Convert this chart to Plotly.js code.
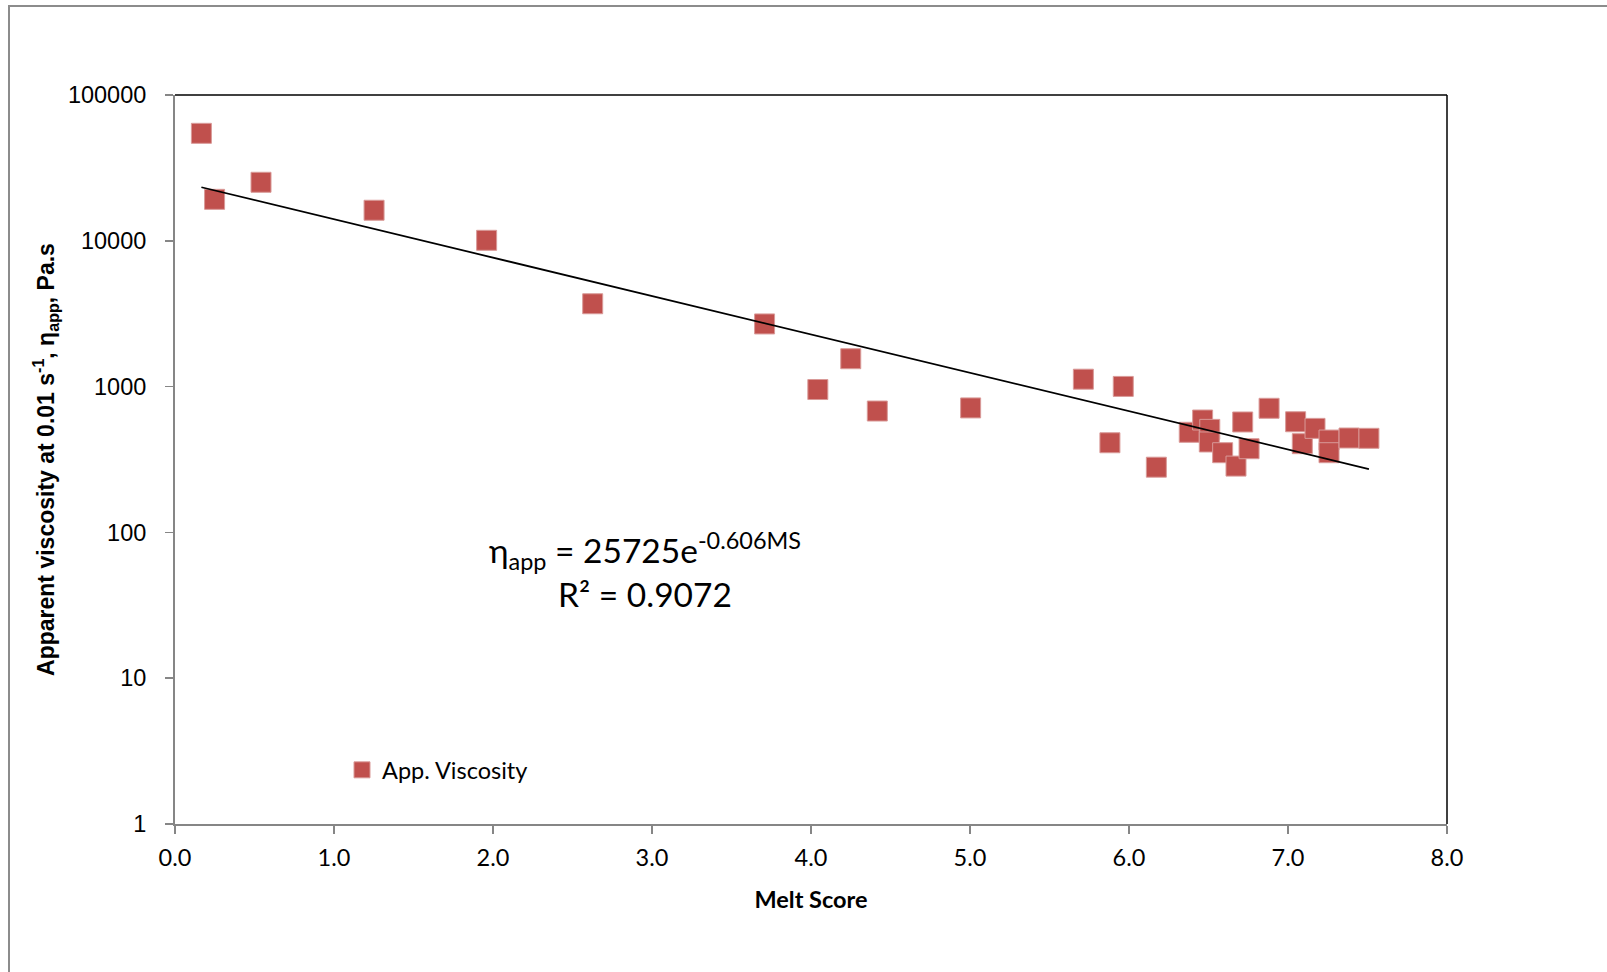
<!DOCTYPE html>
<html>
<head>
<meta charset="utf-8">
<script src="https://cdn.plot.ly/plotly-3.0.1.min.js"></script>
<style>
  html, body { margin: 0; padding: 0; background: #ffffff; }
  #chart { width: 1607px; height: 972px; }
</style>
</head>
<body>
<div id="chart"></div>
<script>
// Data
const meltScore = [0.166, 0.249, 0.541, 1.252, 1.960, 2.627, 3.708, 4.043, 4.250, 4.417,
                   5.004, 5.713, 5.880, 5.964, 6.172, 6.379, 6.463, 6.508, 6.505, 6.589,
                   6.673, 6.715, 6.755, 6.881, 7.048, 7.090, 7.170, 7.258, 7.258, 7.384, 7.509];
const viscosity = [54600, 19250, 25200, 16200, 10080, 3700, 2690, 955, 1553, 680,
                   714, 1124, 412, 1003, 280, 486, 590, 509, 417, 352,
                   285, 572, 375, 710, 574, 406, 517, 430, 352, 444, 442];

// Exponential trendline end points (straight on the log axis)
const trendX = [0.166, 7.509];
const trendY = [23300, 272];

const xTickVals = [0, 1, 2, 3, 4, 5, 6, 7, 8];
const xTickLabels = ["0.0", "1.0", "2.0", "3.0", "4.0", "5.0", "6.0", "7.0", "8.0"];
const yTickVals = [1, 10, 100, 1000, 10000, 100000];
const yTickLabels = ["1", "10", "100", "1000", "10000", "100000"];

const seriesName = "App. Viscosity";
const equationText = "η<sub>app</sub> = 25725e<sup>-0.606MS</sup><br>R² = 0.9072";

const traces = [
  {
    x: meltScore,
    y: viscosity,
    type: "scatter",
    mode: "markers",
    name: seriesName,
    marker: {
      symbol: "square",
      size: 20,
      color: "#C0504D",
      line: { color: "#D99A98", width: 1 }
    },
    showlegend: true
  },
  {
    x: trendX,
    y: trendY,
    type: "scatter",
    mode: "lines",
    line: { color: "#000000", width: 1.75 },
    showlegend: false,
    hoverinfo: "skip"
  }
];

const layout = {
  width: 1607,
  height: 972,
  margin: { l: 175, r: 160, t: 95, b: 148 },
  paper_bgcolor: "#ffffff",
  plot_bgcolor: "#ffffff",
  font: { family: "Lato, 'Open Sans', sans-serif", color: "#000000" },
  xaxis: {
    range: [0, 8],
    tickvals: xTickVals,
    ticktext: xTickLabels,
    showgrid: false,
    zeroline: false,
    showline: true,
    linecolor: "#868686",
    linewidth: 2,
    ticks: "outside",
    ticklen: 8,
    tickwidth: 1.5,
    tickcolor: "#868686",
    ticklabelstandoff: 4,
    tickfont: { family: "Lato, sans-serif", size: 23.5, color: "#000000" },
    title: {
      text: "Melt Score",
      font: { family: "Lato, sans-serif", size: 23.5, color: "#000000", weight: "bold" },
      standoff: 21
    },
    fixedrange: true
  },
  yaxis: {
    type: "log",
    range: [0, 5],
    tickvals: yTickVals,
    ticktext: yTickLabels,
    showgrid: false,
    zeroline: false,
    showline: true,
    linecolor: "#868686",
    linewidth: 2,
    ticks: "outside",
    ticklen: 8,
    tickwidth: 1.5,
    tickcolor: "#868686",
    ticklabelstandoff: 14,
    tickfont: { family: "'Liberation Sans', Arial, sans-serif", size: 23.5, color: "#000000" },
    title: {
      text: "Apparent viscosity at 0.01 s<sup>-1</sup>, η<sub>app</sub>, Pa.s",
      font: { family: "'Liberation Sans', Arial, sans-serif", size: 23, color: "#000000", weight: "bold" },
      standoff: 7
    },
    fixedrange: true
  },
  legend: {
    x: 0.1313,
    y: 0.074,
    xanchor: "left",
    yanchor: "middle",
    bgcolor: "rgba(0,0,0,0)",
    borderwidth: 0,
    font: { family: "Lato, sans-serif", size: 23.5, color: "#000000" }
  },
  annotations: [
    {
      xref: "paper", yref: "paper",
      x: 0.3695, y: 0.3485,
      xanchor: "center", yanchor: "middle",
      align: "center",
      showarrow: false,
      text: equationText,
      font: { family: "Lato, sans-serif", size: 33.5, color: "#000000" }
    }
  ],
  shapes: [
    // outer chart border (extends beyond the picture on the right and bottom)
    { type: "rect", xref: "paper", yref: "paper", x0: -0.1305, x1: 2, y0: -2, y1: 1.1221,
      line: { color: "#8c8c8c", width: 2 }, fillcolor: "rgba(0,0,0,0)", layer: "below" },
    // plot-area border: top and right in black
    { type: "line", xref: "paper", yref: "paper", x0: 0, x1: 1, y0: 1, y1: 1,
      line: { color: "#000000", width: 1.5 } },
    { type: "line", xref: "paper", yref: "paper", x0: 1, x1: 1, y0: 0, y1: 1,
      line: { color: "#000000", width: 1.5 } }
  ],
  showlegend: true
};

Plotly.newPlot("chart", traces, layout, { displayModeBar: false, staticPlot: true });
</script>
</body>
</html>
